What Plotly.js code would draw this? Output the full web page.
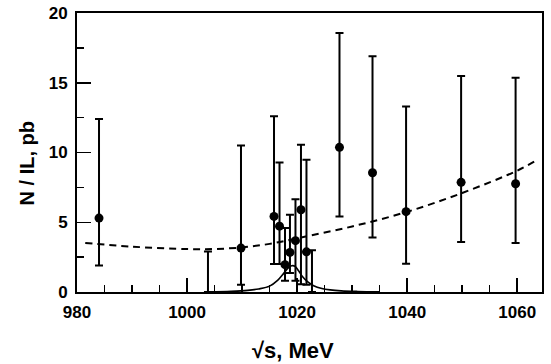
<!DOCTYPE html>
<html>
<head>
<meta charset="utf-8">
<script src="https://cdn.plot.ly/plotly-3.0.1.min.js"></script>
<style>html,body{margin:0;padding:0;background:#fff;}#chart{width:551px;height:364px;}</style>
</head>
<body>
<div id="chart"></div>
<script>
// Measured points
const ptX = [984, 1009.8, 1015.8, 1016.8, 1017.8, 1018.7, 1019.7, 1020.7, 1021.7, 1027.7, 1033.7, 1039.8, 1049.8, 1059.7];
const ptY = [5.3, 3.15, 5.42, 4.72, 1.96, 2.84, 3.68, 5.9, 2.88, 10.37, 8.55, 5.76, 7.86, 7.76];
const ptHi = [12.4, 10.5, 12.6, 9.28, 4.58, 5.54, 6.65, 10.55, 9.48, 18.57, 16.9, 13.3, 15.48, 15.36];
const ptLo = [1.9, 0.52, 2.0, 2.0, 0.8, 1.36, 0.8, 0.55, 0.52, 5.42, 3.9, 2.03, 3.58, 3.51];
// Upper limits (bars from zero)
const limX = [1003.8, 1022.7];
const limHi = [2.9, 3.0];
// Dashed (non-resonant) curve
const dashX = [981.5, 990, 1000, 1005, 1010, 1015, 1020, 1030, 1040, 1050, 1060, 1063.3];
const dashY = [3.52, 3.25, 3.08, 3.08, 3.2, 3.45, 3.85, 4.7, 5.75, 7.1, 8.7, 9.4];
// Solid (resonance) curve
const solX = [1004, 1008, 1011, 1013, 1015, 1016.5, 1017.5, 1018.3, 1019, 1019.6, 1020.3, 1021, 1022, 1023, 1024.5, 1026, 1028, 1031, 1035];
const solY = [0.01, 0.05, 0.12, 0.22, 0.42, 0.85, 1.3, 1.7, 1.88, 1.85, 1.5, 1.1, 0.7, 0.45, 0.25, 0.15, 0.08, 0.04, 0.02];

const errPlus = ptHi.map((h, i) => h - ptY[i]);
const errMinus = ptLo.map((l, i) => ptY[i] - l);
const limY = limX.map(() => 0);

const traces = [
  {x: dashX, y: dashY, mode: 'lines', line: {color: '#000', width: 2, dash: '7px,5px', shape: 'spline'}, hoverinfo: 'skip'},
  {x: solX, y: solY, mode: 'lines', line: {color: '#000', width: 1.6, shape: 'spline'}, hoverinfo: 'skip'},
  {x: limX, y: limY, mode: 'markers', marker: {size: 1, opacity: 0}, cliponaxis: false,
   error_y: {type: 'data', symmetric: false, array: limHi, arrayminus: [0, 0], color: '#000', thickness: 2, width: 4}},
  {x: ptX, y: ptY, mode: 'markers', marker: {color: '#000', size: 9},
   error_y: {type: 'data', symmetric: false, array: errPlus, arrayminus: errMinus, color: '#000', thickness: 2, width: 4}}
];

const font = {family: 'Liberation Sans, Arial, sans-serif', color: '#000'};
const layout = {
  width: 551, height: 364,
  margin: {l: 77, r: 9, t: 13, b: 72},
  paper_bgcolor: '#fff', plot_bgcolor: '#fff',
  showlegend: false,
  font: font,
  xaxis: {
    range: [980, 1064.5], showgrid: false, zeroline: false,
    showline: true, linecolor: '#000', linewidth: 2, mirror: true,
    ticks: 'inside', ticklen: 14, tickwidth: 1.5, tickcolor: '#000',
    tick0: 980, dtick: 20, ticklabelstandoff: 4,
    minor: {dtick: 5, ticks: 'inside', ticklen: 7, tickwidth: 1.5, tickcolor: '#000', showgrid: false},
    tickfont: {family: font.family, size: 17, color: '#000', weight: 'bold'}
  },
  yaxis: {
    range: [0, 20], showgrid: false, zeroline: false,
    showline: true, linecolor: '#000', linewidth: 2, mirror: true,
    ticks: 'inside', ticklen: 14, tickwidth: 1.5, tickcolor: '#000',
    tick0: 0, dtick: 5, ticklabelstandoff: 4,
    minor: {dtick: 2.5, ticks: 'inside', ticklen: 7, tickwidth: 1.5, tickcolor: '#000', showgrid: false},
    tickfont: {family: font.family, size: 17, color: '#000', weight: 'bold'}
  },
  annotations: [
    {text: '<b>N / IL, pb</b>', textangle: -90, xref: 'paper', yref: 'paper', x: -0.108, y: 0.46,
     xanchor: 'center', yanchor: 'middle', showarrow: false, font: {family: font.family, size: 20, color: '#000'}},
    {text: '<b>√s, MeV</b>', xref: 'paper', yref: 'paper', x: 0.464, y: -0.21,
     xanchor: 'center', yanchor: 'middle', showarrow: false, font: {family: font.family, size: 22, color: '#000'}}
  ]
};

Plotly.newPlot('chart', traces, layout, {displayModeBar: false, staticPlot: true});
</script>
</body>
</html>
